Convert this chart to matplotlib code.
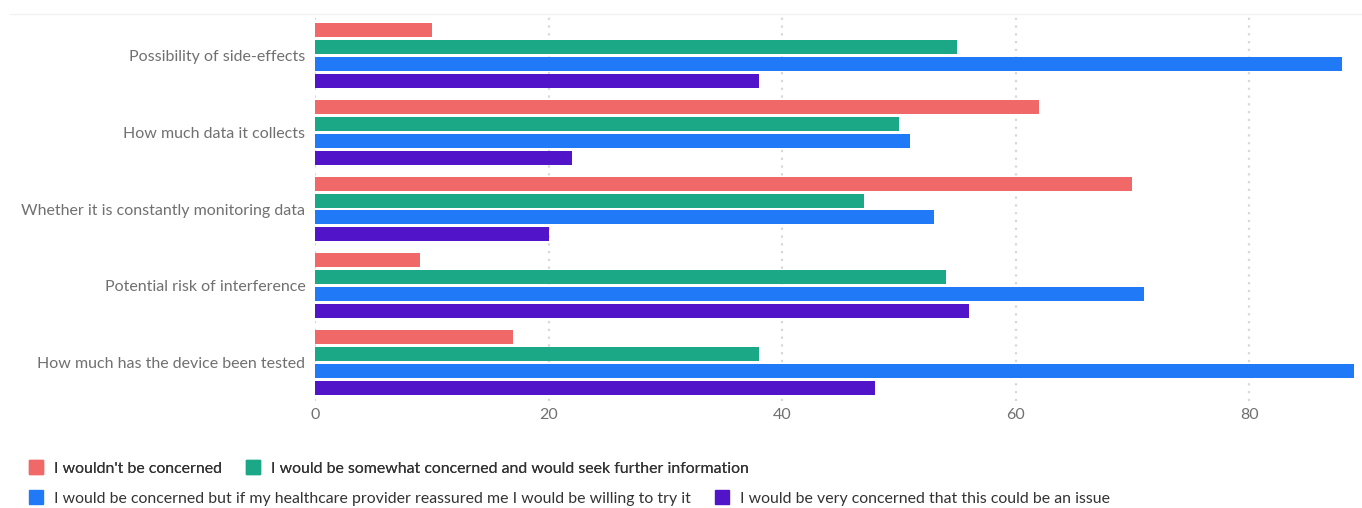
import matplotlib
matplotlib.use("Agg")
import matplotlib.pyplot as plt
from matplotlib.patches import Patch
from matplotlib.lines import Line2D
import numpy as np

categories = [
    "Possibility of side-effects",
    "How much data it collects",
    "Whether it is constantly monitoring data",
    "Potential risk of interference",
    "How much has the device been tested",
]
series_names = [
    "I wouldn't be concerned",
    "I would be somewhat concerned and would seek further information",
    "I would be concerned but if my healthcare provider reassured me I would be willing to try it",
    "I would be very concerned that this could be an issue",
]
not_concerned = [10, 62, 70, 9, 17]
somewhat_concerned = [55, 50, 47, 54, 38]
concerned_reassured = [88, 51, 53, 71, 89]
very_concerned = [38, 22, 20, 56, 48]
series_values = [not_concerned, somewhat_concerned, concerned_reassured, very_concerned]
colors = ["#F06868", "#1AA886", "#2079F7", "#5214C8"]
xticks = [0, 20, 40, 60, 80]

plt.rcParams['font.family'] = ['Lato', 'DejaVu Sans']

fig = plt.figure(figsize=(13.62, 5.08), dpi=100)
ax = fig.add_axes([315/1362, 1-401/508, (1360-315)/1362, (401-17)/508])

y = np.arange(len(categories))
pitch = 17/77
h = 14/77
for i, (vals, c) in enumerate(zip(series_values, colors)):
    ax.barh(y + (i - 1.5) * pitch, vals, height=h, color=c, zorder=3)

ax.set_xlim(0, 89.5)
ax.set_ylim(len(categories) - 0.5, -0.5)
ax.set_yticks(y)
ax.set_yticklabels(categories, fontsize=11.5, color="#707070")
ax.set_xticks(xticks)
ax.set_xticklabels([str(t) for t in xticks], fontsize=11.5, color="#707070")
ax.tick_params(axis='both', length=0)
ax.tick_params(axis='y', pad=7)
ax.tick_params(axis='x', pad=5)
for s in ax.spines.values():
    s.set_visible(False)
ax.grid(axis='x', color="#d8d8d8", linestyle=(0, (1, 2.5)), linewidth=1.6, zorder=0)

fig.add_artist(Line2D([10/1362, 1.0], [1-14/508, 1-14/508], color="#f2f2f2", linewidth=1))

handles = [Patch(facecolor=c, edgecolor=c) for c in colors]
leg_kw = dict(frameon=False, fontsize=11.4, handlelength=0.9, handleheight=0.9,
              handletextpad=0.7, columnspacing=1.5, borderaxespad=0, borderpad=0,
              labelcolor="#333333", ncol=2, loc="center left")
leg1 = fig.legend(handles[:2], series_names[:2], bbox_to_anchor=(29/1362, 1-468/508), **leg_kw)
fig.add_artist(leg1)
leg2 = fig.legend(handles[2:], series_names[2:], bbox_to_anchor=(29/1362, 1-498/508), **leg_kw)

fig.savefig("out.png", dpi=100, facecolor="white")
